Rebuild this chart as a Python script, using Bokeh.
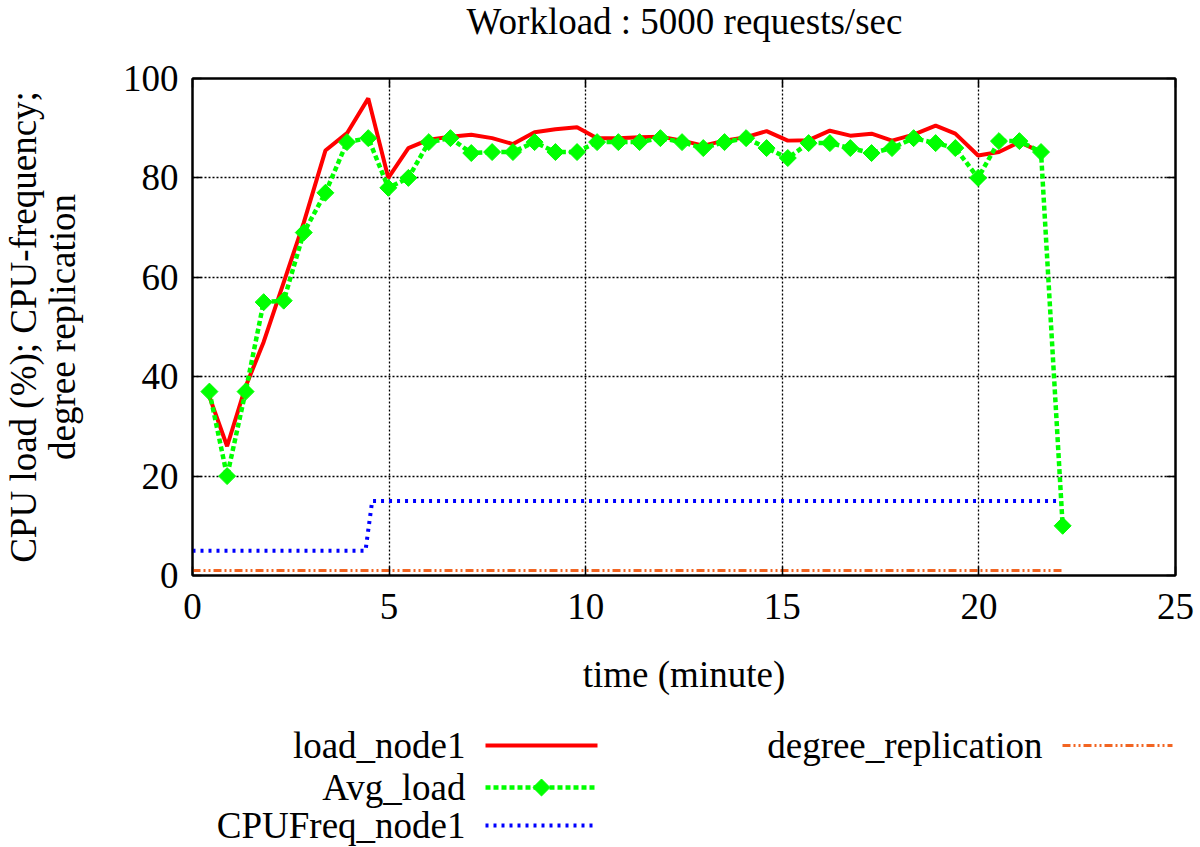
from bokeh.plotting import figure
from bokeh.models import Range1d, FixedTicker, LinearAxis
from bokeh.embed import file_html
from bokeh.resources import INLINE
from bokeh.core.properties import value

# ---------------- data ----------------
time_avg = [0.43, 0.88, 1.35, 1.81, 2.32, 2.83, 3.38, 3.93, 4.47, 4.98,
            5.49, 6.01, 6.56, 7.09, 7.62, 8.15, 8.70, 9.23, 9.78, 10.29,
            10.83, 11.37, 11.90, 12.45, 12.99, 13.53, 14.08, 14.60, 15.14, 15.67,
            16.21, 16.73, 17.27, 17.79, 18.34, 18.90, 19.40, 19.98, 20.51, 21.03,
            21.58, 22.13]
avg_load = [37, 20, 37, 55, 55.3, 69, 77, 87.2, 88, 78,
            80, 87.2, 88, 85, 85.2, 85.2, 87.2, 85.2, 85.2, 87.2,
            87.2, 87.2, 88, 87.2, 86, 87.2, 88, 86, 84, 87,
            87, 86, 85, 86, 88, 87, 86, 80, 87.4, 87.4,
            85.2, 10]

time_node1 = [0.43, 0.88, 1.35, 1.81, 2.32, 2.83, 3.38, 3.93, 4.47, 4.98,
              5.49, 6.01, 6.56, 7.09, 7.62, 8.15, 8.70, 9.23, 9.78, 10.29,
              10.83, 11.37, 11.90, 12.45, 12.99, 13.53, 14.08, 14.60, 15.14, 15.67,
              16.21, 16.73, 17.27, 17.79, 18.34, 18.90, 19.40, 19.98, 20.51, 21.03,
              21.58]
load_node1 = [36, 26, 38, 47, 59, 71, 85.5, 89, 96, 80,
              86, 87.7, 88.3, 88.7, 88, 86.8, 89.2, 89.8, 90.2, 88,
              88, 88.2, 88.3, 87.5, 86.5, 87.5, 88.2, 89.4, 87.5, 87.6,
              89.5, 88.5, 88.9, 87.5, 88.7, 90.5, 88.9, 84.5, 85.2, 87.2,
              85.2]

time_freq = [0.0, 4.40, 4.57, 21.98]
cpu_freq = [5, 5, 15, 15]

time_repl = [0.0, 22.13]
degree_repl = [1, 1]

x_ticks = [0, 5, 10, 15, 20, 25]
y_ticks = [0, 20, 40, 60, 80, 100]

title_text = "Workload : 5000 requests/sec"
x_label = "time (minute)"
y_label = "CPU load (%); CPU-frequency;\ndegree replication"
legend_names = ["load_node1", "Avg_load", "CPUFreq_node1", "degree_replication"]

# ---------------- styles ----------------
FONT = "Liberation Serif"
FS = "37px"
RED = "#ff0000"
GREEN = "#00ff00"
BLUE = "#0000ff"
ORANGE = "#f26522"
W = 1196


def blank(height, yr):
    f = figure(width=W, height=height, output_backend="svg", toolbar_location=None,
               x_range=Range1d(0, W), y_range=yr,
               min_border=0, min_border_left=0, min_border_right=0,
               min_border_top=0, min_border_bottom=0)
    f.axis.visible = False
    f.grid.visible = False
    f.outline_line_color = None
    f.background_fill_color = "white"
    f.border_fill_color = "white"
    return f


# ---------------- title strip ----------------
TITLE_H = 46
tf = blank(TITLE_H, Range1d(TITLE_H, 0))
tf.text(x=[684], y=[21], text=[title_text], text_font=value(FONT),
        text_font_size=value(FS), text_align="center", text_baseline="middle",
        text_color="black")

# ---------------- main chart ----------------
p = figure(frame_width=983, frame_height=497, output_backend="svg", toolbar_location=None,
           x_range=Range1d(0, 25), y_range=Range1d(0, 100),
           min_border_left=192, min_border_right=W - 192 - 983, min_border_top=78 - TITLE_H,
           min_border_bottom=130)
p.background_fill_color = "white"
p.border_fill_color = "white"
p.outline_line_color = "black"
p.outline_line_width = 2

for ax in (p.xaxis[0], p.yaxis[0]):
    ax.major_label_text_font = FONT
    ax.major_label_text_font_size = FS
    ax.major_label_text_color = "black"
    ax.axis_label_text_font = FONT
    ax.axis_label_text_font_size = FS
    ax.axis_label_text_font_style = "normal"
    ax.axis_label_text_color = "black"
    ax.axis_label_text_line_height = 0.95
    ax.major_tick_in = 9
    ax.major_tick_out = 0
    ax.major_tick_line_width = 1.5
    ax.minor_tick_line_color = None
    ax.axis_line_width = 2

p.xaxis[0].ticker = FixedTicker(ticks=x_ticks)
p.yaxis[0].ticker = FixedTicker(ticks=y_ticks)
p.xaxis[0].axis_label = x_label
p.yaxis[0].axis_label = y_label
p.xaxis[0].major_label_standoff = 18
p.yaxis[0].major_label_standoff = 14
p.xaxis[0].axis_label_standoff = 32
p.yaxis[0].axis_label_standoff = 37

for side, ticks in (("above", x_ticks), ("right", y_ticks)):
    a = LinearAxis(ticker=FixedTicker(ticks=ticks), major_label_text_font_size="0px",
                   major_tick_in=9, major_tick_out=0, major_tick_line_width=1.5,
                   major_label_standoff=0, axis_label_standoff=0,
                   minor_tick_line_color=None, axis_line_width=2)
    p.add_layout(a, side)

p.xgrid.ticker = FixedTicker(ticks=x_ticks[1:-1])
p.ygrid.ticker = FixedTicker(ticks=y_ticks[1:-1])
for g in (p.xgrid[0], p.ygrid[0]):
    g.grid_line_color = "black"
    g.grid_line_dash = "2 2"
    g.grid_line_width = 1.3

# series
p.line(time_repl, degree_repl, line_color=ORANGE, line_width=3, line_dash="8 3 2 3 2 3")
p.line(time_freq, cpu_freq, line_color=BLUE, line_width=4, line_dash="3 5")
p.line(time_node1, load_node1, line_color=RED, line_width=4)
p.line(time_avg, avg_load, line_color=GREEN, line_width=4.5, line_dash="5 3")
p.scatter(time_avg, avg_load, marker="square", size=12, angle=0.785398,
          fill_color=GREEN, line_color=GREEN)

# ---------------- legend strip (gnuplot style) ----------------
LG_TOP = 705
LG_H = 141
lg = blank(LG_H, Range1d(LG_TOP + LG_H, LG_TOP))

rows_y = [745, 787, 825, 745]
text_x = [465, 465, 465, 1042]
line_x0 = [485, 485, 485, 1062]
line_x1 = [597, 597, 597, 1172]
styles = [dict(line_color=RED, line_width=4),
          dict(line_color=GREEN, line_width=4.5, line_dash="5 3"),
          dict(line_color=BLUE, line_width=4, line_dash="3 5"),
          dict(line_color=ORANGE, line_width=3, line_dash="8 3 2 3 2 3")]

lg.text(x=text_x, y=rows_y, text=legend_names, text_font=value(FONT),
        text_font_size=value(FS), text_align="right", text_baseline="middle",
        text_color="black")
for i in range(4):
    lg.line([line_x0[i], line_x1[i]], [rows_y[i], rows_y[i]], **styles[i])
lg.scatter([(line_x0[1] + line_x1[1]) / 2], [rows_y[1]], marker="square", size=12,
           angle=0.785398, fill_color=GREEN, line_color=GREEN)

open("out.html", "w").write(file_html([tf, p, lg], INLINE))
